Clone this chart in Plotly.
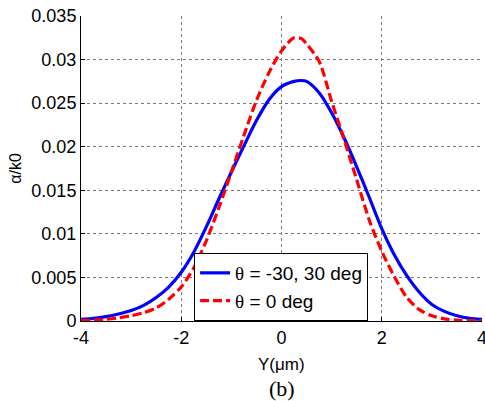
import plotly.graph_objects as go

# Y positions (um)
y_pos = [-4.0, -3.75, -3.5, -3.25, -3.0, -2.75, -2.5, -2.25, -2.0, -1.75, -1.5, -1.25,
         -1.0, -0.75, -0.5, -0.25, 0.0, 0.25, 0.4, 0.5, 0.75, 1.0, 1.25, 1.5, 1.75,
         2.0, 2.25, 2.5, 2.75, 3.0, 3.25, 3.5, 3.75, 4.0]

# alpha/k0 for theta = -30, 30 deg (x1e-3)
alpha_30 = [0.2, 0.3, 0.5, 0.8, 1.2, 1.8, 2.7, 3.9, 5.6, 7.9, 10.8, 14.0,
            17.1, 20.1, 23.0, 25.4, 26.9, 27.5, 27.6, 27.5, 26.2, 23.9, 21.0, 17.7, 14.2,
            10.6, 7.6, 5.2, 3.3, 1.9, 1.1, 0.6, 0.3, 0.2]

# alpha/k0 for theta = 0 deg (x1e-3)
alpha_0 = [0.05, 0.1, 0.2, 0.35, 0.6, 0.95, 1.5, 2.5, 3.9, 6.1, 9.2, 13.0,
           17.1, 21.3, 25.3, 28.5, 31.0, 32.5, 32.4, 31.8, 29.8, 25.2, 20.8, 16.2, 11.6,
           8.0, 5.1, 2.7, 1.3, 0.6, 0.25, 0.1, 0.05, 0.03]

x_ticks = [-4, -2, 0, 2, 4]
y_ticks = [0, 0.005, 0.01, 0.015, 0.02, 0.025, 0.03, 0.035]
y_tick_text = ["0", "0.005", "0.01", "0.015", "0.02", "0.025", "0.03", "0.035"]

FONT = "Arial, 'Liberation Sans', sans-serif"
SERIF = "'Times New Roman', 'Liberation Serif', serif"

fig = go.Figure()
fig.add_trace(go.Scatter(
    x=y_pos, y=[v * 1e-3 for v in alpha_30], mode="lines",
    line=dict(color="#0000ff", width=3.2, shape="spline", smoothing=0.8),
    name="<span style=\"font-family:'Liberation Serif'\">θ</span> = -30, 30 deg"))
fig.add_trace(go.Scatter(
    x=y_pos, y=[v * 1e-3 for v in alpha_0], mode="lines",
    line=dict(color="#ff0000", width=3.2, dash="9px,4px", shape="spline", smoothing=0.8),
    name="<span style=\"font-family:'Liberation Serif'\">θ</span> = 0 deg"))

fig.update_layout(
    width=485, height=401,
    margin=dict(l=81, r=3, t=16, b=80),
    paper_bgcolor="white", plot_bgcolor="white",
    font=dict(family=FONT, size=18, color="black"),
    showlegend=True,
    legend=dict(x=0.282, xanchor="left", y=0.0, yanchor="bottom",
                bgcolor="white", bordercolor="black", borderwidth=1,
                font=dict(size=19, family=FONT), tracegroupgap=0,
                itemwidth=30),
    xaxis=dict(range=[-4, 4], tickvals=x_ticks, ticktext=[str(t) for t in x_ticks],
               showgrid=True, gridcolor="#7a7a7a", griddash="dot", gridwidth=1,
               zeroline=False, showline=True, linecolor="black", linewidth=1,
               ticks="inside", ticklen=4, tickcolor="black",
               ticklabeloverflow="allow", automargin=False,
               tickfont=dict(size=18, family=FONT)),
    yaxis=dict(range=[0, 0.035], tickvals=y_ticks, ticktext=y_tick_text,
               showgrid=True, gridcolor="#7a7a7a", griddash="dot", gridwidth=1,
               zeroline=False, showline=True, linecolor="black", linewidth=1,
               ticks="inside", ticklen=4, tickcolor="black", automargin=False,
               tickfont=dict(size=18, family=FONT)),
    annotations=[
        dict(text="Y(μm)", xref="paper", yref="paper", x=0.5, y=-0.105,
             xanchor="center", yanchor="top", showarrow=False,
             font=dict(size=17, family=FONT)),
        dict(text="(b)", xref="paper", yref="paper", x=0.5, y=-0.175,
             xanchor="center", yanchor="top", showarrow=False,
             font=dict(size=22, family=SERIF)),
        dict(text="(a)", xref="paper", yref="paper", x=0.488, y=1.05,
             xanchor="center", yanchor="bottom", showarrow=False,
             font=dict(size=22, family=SERIF)),
        dict(text="α/k0", xref="paper", yref="paper", x=-0.164, y=0.5,
             xanchor="center", yanchor="middle", showarrow=False, textangle=-90,
             font=dict(size=16, family=FONT)),
    ],
)

fig.write_html("out.html")
